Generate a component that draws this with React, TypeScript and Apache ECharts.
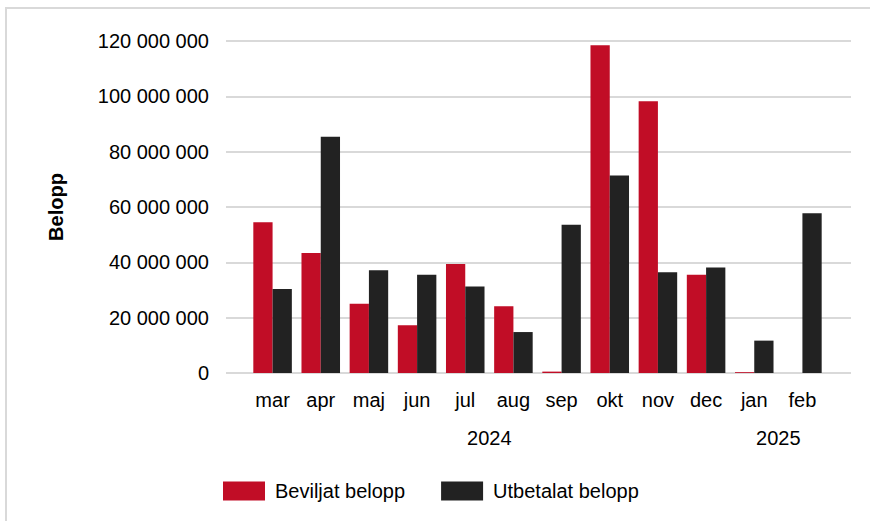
import React, { useEffect, useRef } from "react";
import * as echarts from "echarts";

const months = ["mar", "apr", "maj", "jun", "jul", "aug", "sep", "okt", "nov", "dec", "jan", "feb"];
const years = ["2024", "2025"];
const monthsPerYear = [10, 2];
const beviljat = [54500000, 43400000, 25000000, 17300000, 39400000, 24100000, 500000, 118500000, 98200000, 35500000, 300000, 0];
const utbetalat = [30400000, 85400000, 37100000, 35500000, 31300000, 14800000, 53600000, 71400000, 36400000, 38100000, 11700000, 57700000];
const seriesNames = ["Beviljat belopp", "Utbetalat belopp"];
const yMin = 0;
const yMax = 120000000;
const yStep = 20000000;

const RED = "#C10D26";
const BLACK = "#222222";
const FONT = "Liberation Sans, Arial, sans-serif";

function fmt(v: number): string {
  return String(Math.round(v)).replace(/\B(?=(\d{3})+(?!\d))/g, " ");
}

// year label positions (in category-index units, centre of each year's months)
const yearPos: Record<number, string> = {};
{
  let start = 0;
  years.forEach((y, i) => {
    const n = monthsPerYear[i];
    yearPos[start + n / 2] = y;
    start += n;
  });
}

export default function App() {
  const ref = useRef<HTMLDivElement>(null);
  useEffect(() => {
    if (!ref.current) return;
    const chart = echarts.init(ref.current, undefined, { renderer: "svg" });
    const plotTop = 41;
    const plotH = 332;
    chart.setOption({
      animation: false,
      backgroundColor: "#ffffff",
      textStyle: { fontFamily: FONT },
      graphic: [
        {
          type: "rect",
          shape: { x: 6, y: 8, width: 900, height: 600 },
          style: { fill: "none", stroke: "#d9d9d9", lineWidth: 2 },
          silent: true,
          z: -10,
        },
      ],
      grid: [
        { left: 248.5, width: 578, top: plotTop, height: plotH, containLabel: false },
        { left: 226, width: 625, top: plotTop, height: plotH, containLabel: false },
      ],
      legend: {
        data: seriesNames,
        left: 223,
        top: 481,
        padding: 0,
        itemWidth: 42,
        itemHeight: 19,
        itemGap: 36,
        icon: "rect",
        textStyle: { fontFamily: FONT, fontSize: 20, color: "#000", padding: [0, 0, 0, 5] },
      },
      xAxis: [
        {
          type: "category",
          gridIndex: 0,
          data: months,
          axisLine: { show: false },
          axisTick: { show: false },
          axisLabel: { fontFamily: FONT, fontSize: 20, color: "#000", margin: 17 },
        },
        {
          type: "value",
          gridIndex: 0,
          position: "bottom",
          min: 0,
          max: months.length,
          interval: 1,
          axisLine: { show: false },
          axisTick: { show: false },
          splitLine: { show: false },
          axisLabel: {
            fontFamily: FONT,
            fontSize: 20,
            color: "#000",
            margin: 55,
            showMinLabel: true,
            showMaxLabel: true,
            formatter: (v: number) => yearPos[v] || "",
          },
        },
        {
          type: "value",
          gridIndex: 1,
          show: false,
          min: 0,
          max: 1,
        },
      ],
      yAxis: [
        {
          type: "value",
          gridIndex: 0,
          min: yMin,
          max: yMax,
          interval: yStep,
          show: false,
          splitLine: { show: false },
        },
        {
          type: "value",
          gridIndex: 1,
          min: yMin,
          max: yMax,
          interval: yStep,
          name: "Belopp",
          nameLocation: "middle",
          nameRotate: 90,
          nameGap: 160,
          nameTextStyle: { fontFamily: FONT, fontSize: 20, fontWeight: "bold", color: "#000" },
          axisLine: { show: false },
          axisTick: { show: false },
          axisLabel: { fontFamily: FONT, fontSize: 20, color: "#000", margin: 17, formatter: (v: number) => fmt(v) },
          splitLine: { show: true, lineStyle: { color: "#d9d9d9", width: 2 } },
        },
      ],
      series: [
        {
          name: seriesNames[0],
          type: "bar",
          xAxisIndex: 0,
          yAxisIndex: 0,
          data: beviljat,
          barGap: "0%",
          barCategoryGap: "20%",
          itemStyle: { color: RED },
        },
        {
          name: seriesNames[1],
          type: "bar",
          xAxisIndex: 0,
          yAxisIndex: 0,
          data: utbetalat,
          barGap: "0%",
          barCategoryGap: "20%",
          itemStyle: { color: BLACK },
        },
      ],
    });
    return () => chart.dispose();
  }, []);
  return <div ref={ref} style={{ position: "fixed", left: 0, top: 0, width: 870, height: 521 }} />;
}
